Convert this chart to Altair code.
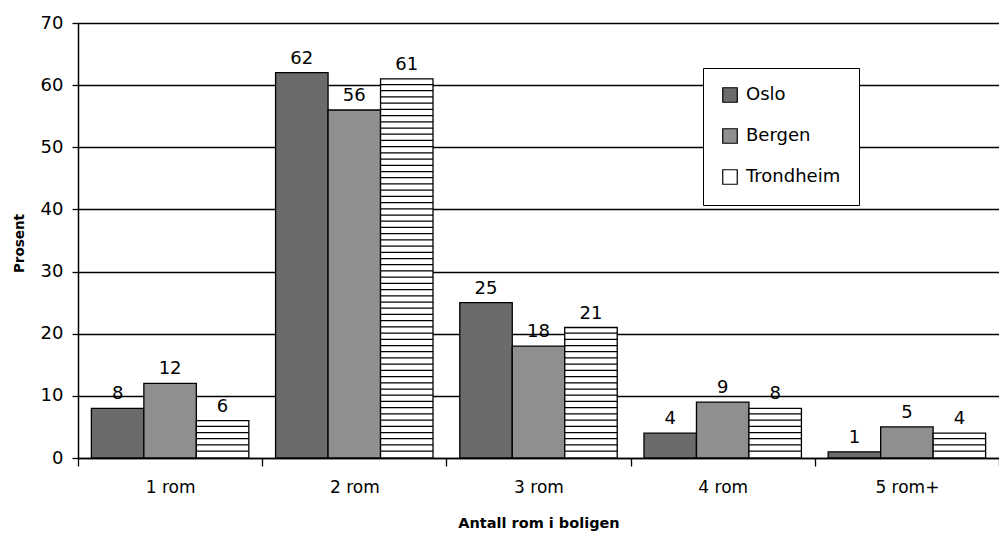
import altair as alt
import pandas as pd

categories = ["1 rom", "2 rom", "3 rom", "4 rom", "5 rom+"]
cities = ["Oslo", "Bergen", "Trondheim"]
oslo = [8, 62, 25, 4, 1]
bergen = [12, 56, 18, 9, 5]
trondheim = [6, 61, 21, 8, 4]
colors = ["#6b6b6b", "#8f8f8f", "#ffffff"]

rows = []
for c, o, b, t in zip(categories, oslo, bergen, trondheim):
    rows.append(dict(rom=c, by="Oslo", pst=o))
    rows.append(dict(rom=c, by="Bergen", pst=b))
    rows.append(dict(rom=c, by="Trondheim", pst=t))
df = pd.DataFrame(rows)

# horizontal hatch lines inside the Trondheim bars (one per unit)
stripes = pd.DataFrame(
    [dict(rom=c, by="Trondheim", y0=k, y1=k + 0.2)
     for c, t in zip(categories, trondheim) for k in range(1, t)]
)

FONT = "DejaVu Sans"

x = alt.X(
    "rom:N", sort=categories,
    scale=alt.Scale(paddingInner=0, paddingOuter=0),
    axis=alt.Axis(
        title="Antall rom i boligen", labelAngle=0, tickBand="extent",
        tickSize=8, tickColor="black", tickWidth=1.3,
        domainColor="black", domainWidth=1.5,
        labelFontSize=17, labelColor="black", labelPadding=13, labelFont=FONT,
        titleFontSize=14.5, titleFontWeight="bold", titleColor="black", titleFont=FONT,
        titleY=65, titleBaseline="middle",
    ),
)
xo = alt.XOffset(
    "by:N", sort=cities,
    scale=alt.Scale(domain=cities, paddingOuter=0.255, paddingInner=0),
)
y_scale = alt.Scale(domain=[0, 70], nice=False)

bars = alt.Chart(df).mark_bar(stroke="black", strokeWidth=1.3).encode(
    x=x,
    xOffset=xo,
    y=alt.Y(
        "pst:Q", scale=y_scale,
        axis=alt.Axis(
            title="Prosent", values=list(range(0, 71, 10)),
            grid=True, gridColor="black", gridWidth=1.3, gridOpacity=1,
            tickSize=6, tickColor="black", tickWidth=1.3,
            domainColor="black", domainWidth=1.5,
            labelFontSize=18, labelColor="black", labelPadding=9, labelFont=FONT,
            titleFontSize=13.5, titleFontWeight="bold", titleColor="black", titleFont=FONT,
            titleX=-59, titleY=220, titleAngle=-90, titleAlign="center",
            titleBaseline="middle",
        ),
    ),
    color=alt.Color(
        "by:N", sort=cities,
        scale=alt.Scale(domain=cities, range=colors),
        legend=alt.Legend(
            title=None, orient="none", legendX=625, legendY=45,
            symbolType="square", symbolSize=210, symbolStrokeColor="black",
            symbolStrokeWidth=1.2, symbolOpacity=1,
            labelFontSize=18, labelColor="black", labelFont=FONT, labelOffset=7,
            padding=18, rowPadding=21, strokeColor="black", fillColor="white",
        ),
    ),
)

hatch = alt.Chart(stripes).mark_bar(color="black").encode(
    x=x, xOffset=xo,
    y=alt.Y("y0:Q", scale=y_scale),
    y2="y1:Q",
)

labels = alt.Chart(df).mark_text(
    baseline="bottom", dy=-5, fontSize=18, color="black", font=FONT
).encode(
    x=x, xOffset=xo,
    y=alt.Y("pst:Q", scale=y_scale),
    text="pst:Q",
)

chart = alt.layer(bars, hatch, labels).properties(
    width=921, height=435,
    autosize=alt.AutoSizeParams(type="none"),
    padding={"left": 78, "top": 23, "right": 0, "bottom": 77},
).configure_view(strokeOpacity=0).configure(background="white")

chart.save("out.html", embed_options={"renderer": "svg", "actions": False})
